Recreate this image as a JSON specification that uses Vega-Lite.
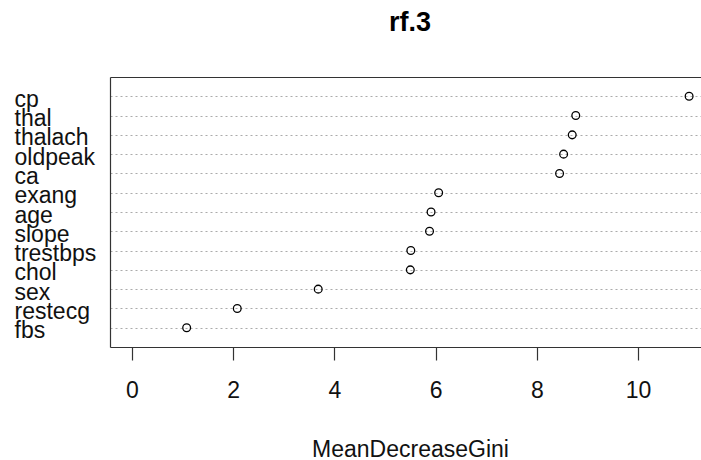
{
  "$schema": "https://vega.github.io/schema/vega-lite/v6.json",
  "autosize": {"type": "none"},
  "padding": {"left": 110, "top": 77, "right": 0, "bottom": 113},
  "width": 591,
  "height": 270,
  "background": "white",
  "config": {
    "view": {"stroke": null},
    "font": "Liberation Sans"
  },
  "title": {
    "text": "rf.3",
    "font": "Liberation Sans",
    "fontSize": 27,
    "fontWeight": "bold",
    "color": "black",
    "anchor": "middle",
    "baseline": "alphabetic",
    "offset": 19,
    "dx": 4.5
  },
  "data": {
    "values": [
      {"variable": "cp", "MeanDecreaseGini": 11.01},
      {"variable": "thal", "MeanDecreaseGini": 8.77},
      {"variable": "thalach", "MeanDecreaseGini": 8.70},
      {"variable": "oldpeak", "MeanDecreaseGini": 8.53},
      {"variable": "ca", "MeanDecreaseGini": 8.45},
      {"variable": "exang", "MeanDecreaseGini": 6.06},
      {"variable": "age", "MeanDecreaseGini": 5.91},
      {"variable": "slope", "MeanDecreaseGini": 5.88},
      {"variable": "trestbps", "MeanDecreaseGini": 5.51},
      {"variable": "chol", "MeanDecreaseGini": 5.50},
      {"variable": "sex", "MeanDecreaseGini": 3.68},
      {"variable": "restecg", "MeanDecreaseGini": 2.08},
      {"variable": "fbs", "MeanDecreaseGini": 1.08}
    ]
  },
  "resolve": {"axis": {"x": "independent"}},
  "layer": [
    {
      "mark": {"type": "point", "shape": "circle", "filled": false, "stroke": "black", "strokeWidth": 1.3, "size": 60, "opacity": 1},
      "encoding": {
        "x": {
          "field": "MeanDecreaseGini",
          "type": "quantitative",
          "scale": {"domain": [-0.435, 11.245], "nice": false, "zero": false},
          "axis": {
            "orient": "bottom",
            "values": [0, 2, 4, 6, 8, 10],
            "grid": false,
            "domain": true,
            "domainColor": "#333333",
            "domainWidth": 1.2,
            "ticks": true,
            "tickSize": 13,
            "tickColor": "#333333",
            "tickWidth": 1.2,
            "labelFont": "Liberation Sans",
            "labelFontSize": 23,
            "labelColor": "#111111",
            "labelBaseline": "top",
            "labelPadding": 19,
            "labelFlush": false,
            "labelOverlap": false,
            "title": "MeanDecreaseGini",
            "titleFont": "Liberation Sans",
            "titleFontSize": 23,
            "titleFontWeight": "normal",
            "titleColor": "#111111",
            "titleAlign": "center",
            "titleBaseline": "top",
            "titleX": 300,
            "titleY": 91
          }
        },
        "y": {
          "field": "variable",
          "type": "nominal",
          "sort": null,
          "scale": {"type": "point", "padding": 1.02},
          "axis": {
            "orient": "left",
            "title": null,
            "domain": true,
            "domainColor": "#333333",
            "domainWidth": 1.2,
            "ticks": false,
            "tickSize": 0,
            "grid": true,
            "gridColor": "#ababab",
            "gridDash": [2, 3],
            "gridWidth": 1,
            "labelFont": "Liberation Sans",
            "labelFontSize": 23,
            "labelColor": "#111111",
            "labelAlign": "left",
            "labelBaseline": "alphabetic",
            "labelOffset": 10,
            "labelPadding": 96,
            "labelOverlap": false,
            "labelBound": false
          }
        }
      }
    },
    {
      "mark": {"type": "point", "opacity": 0},
      "encoding": {
        "x": {
          "field": "MeanDecreaseGini",
          "type": "quantitative",
          "axis": {
            "orient": "top",
            "domain": true,
            "domainColor": "#333333",
            "domainWidth": 1.2,
            "ticks": false,
            "labels": false,
            "grid": false,
            "title": null
          }
        },
        "y": {"field": "variable", "type": "nominal", "sort": null}
      }
    }
  ]
}
